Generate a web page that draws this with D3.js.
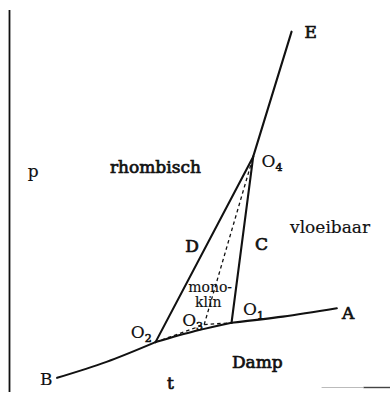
<!DOCTYPE html>
<html>
<head>
<meta charset="utf-8">
<script src="https://cdn.jsdelivr.net/npm/d3@7"></script>
<style>
  body { margin: 0; background: #fff; }
  text { font-family: "DejaVu Serif", "Liberation Serif", serif; fill: #111; }
</style>
</head>
<body>
<div id="container"></div>
<script>
(function(){
  "use strict";
  // curves of the phase diagram, in (t, p) units 0..100
  var curveBO2 = [[12.4, 3.2], [25.4, 7.4], [38.3, 12.6]];
  var curveO2O1 = [[38.3, 12.6], [48.7, 15.5], [58.3, 17.7]];
  var curveO1A = [[58.3, 17.7], [71.8, 19.3], [86.0, 21.5]];
  var curveO2O4 = [[38.3, 12.6], [64.0, 61.4]];
  var curveO1O4 = [[58.3, 17.7], [64.0, 61.4]];
  var curveO4E = [[64.0, 61.4], [74.1, 94.3]];
  var dashedO2O3 = [[38.3, 12.6], [51.1, 17.2]];
  var dashedO3O1 = [[51.1, 17.2], [58.3, 17.7]];
  var dashedO3O4 = [[51.1, 17.2], [64.0, 61.4]];

  var labels = [
    {text: "E", t: 77.5, p: 92.6, bold: true},
    {text: "O", sub: "4", t: 66.2, p: 58.6},
    {text: "O", sub: "1", t: 61.3, p: 19.8},
    {text: "A", t: 87.4, p: 18.8, bold: true},
    {text: "O", sub: "2", t: 31.8, p: 13.6},
    {text: "O", sub: "3", t: 45.3, p: 16.8},
    {text: "B", t: 7.9, p: 1.3},
    {text: "D", t: 46.1, p: 36.3, bold: true},
    {text: "C", t: 64.5, p: 36.8, bold: true},
    {text: "mono-", t: 46.9, p: 25.8, small: true},
    {text: "klin", t: 48.7, p: 21.8, small: true},
    {text: "p", t: 4.7, p: 56.0},
    {text: "rhombisch", t: 26.3, p: 57.1, bold: true},
    {text: "vloeibaar", t: 73.7, p: 41.3},
    {text: "Damp", t: 58.4, p: 5.8, bold: true},
    {text: "t", t: 41.3, p: 0.3, bold: true}
  ];

  var width = 390, height = 395;
  var svg = d3.select("#container").append("svg")
      .attr("width", width)
      .attr("height", height);

  var xScale = d3.scaleLinear().domain([0, 100]).range([10, 390]);
  var yScale = d3.scaleLinear().domain([0, 100]).range([390, 10]);

  // axes: plain vertical line at left, short bit of base line at right
  svg.append("line")
      .attr("x1", xScale(0) - 0.5).attr("x2", xScale(0) - 0.5)
      .attr("y1", yScale(100)).attr("y2", yScale(0) + 2)
      .attr("stroke", "#111").attr("stroke-width", 1.8);
  svg.append("line")
      .attr("x1", xScale(93)).attr("x2", xScale(100))
      .attr("y1", yScale(0) - 2.5).attr("y2", yScale(0) - 2.5)
      .attr("stroke", "#444").attr("stroke-width", 1.4);
  svg.append("line")
      .attr("x1", xScale(82)).attr("x2", xScale(93))
      .attr("y1", yScale(0) - 2.5).attr("y2", yScale(0) - 2.5)
      .attr("stroke", "#bbb").attr("stroke-width", 1);

  var line = d3.line()
      .x(function(d) { return xScale(d[0]); })
      .y(function(d) { return yScale(d[1]); })
      .curve(d3.curveNatural);

  [curveBO2, curveO2O1, curveO1A, curveO2O4, curveO1O4, curveO4E].forEach(function(c) {
    svg.append("path")
        .attr("d", line(c))
        .attr("fill", "none")
        .attr("stroke", "#111")
        .attr("stroke-width", 2.1)
        .attr("stroke-linecap", "round");
  });

  [dashedO2O3, dashedO3O1, dashedO3O4].forEach(function(c) {
    svg.append("path")
        .attr("d", line(c))
        .attr("fill", "none")
        .attr("stroke", "#111")
        .attr("stroke-width", 1.3)
        .attr("stroke-dasharray", "3.5,3");
  });

  labels.forEach(function(l) {
    var t = svg.append("text")
        .attr("x", xScale(l.t))
        .attr("y", yScale(l.p))
        .style("font-size", l.small ? "14px" : "17px")
        .style("stroke", "#111")
        .style("stroke-width", l.bold ? 0.7 : 0.15)
        .text(l.text);
    if (l.sub) {
      t.append("tspan")
          .attr("dy", 4)
          .style("font-size", "11px")
          .style("stroke-width", 0.6)
          .text(l.sub);
    }
  });
})();
</script>
</body>
</html>
